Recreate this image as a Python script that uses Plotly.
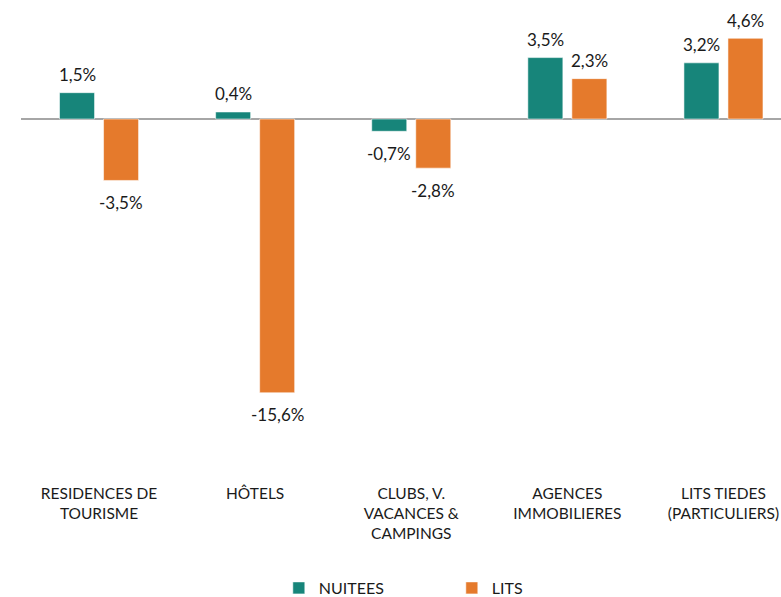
import plotly.graph_objects as go

categories = ["RESIDENCES DE<br>TOURISME", "HÔTELS", "CLUBS, V.<br>VACANCES &<br>CAMPINGS",
              "AGENCES<br>IMMOBILIERES", "LITS TIEDES<br>(PARTICULIERS)"]
nuitees = [1.5, 0.4, -0.7, 3.5, 3.2]
lits = [-3.5, -15.6, -2.8, 2.3, 4.6]
series_names = ["NUITEES", "LITS"]
colors = ["#17857A", "#E57A2C"]

FONT = "Lato, sans-serif"

fig = go.Figure()
for name, vals, col in zip(series_names, [nuitees, lits], colors):
    fig.add_trace(go.Bar(
        name=name, x=categories, y=vals, marker_color=col,
        marker_line=dict(color="rgba(255,255,255,0.55)", width=1),
    ))

def fmt(v):
    return f"{v:.1f}".replace(".", ",") + "%"

annotations = []
for vals, xs in [(nuitees, -22), (lits, 22)]:
    for c, v in zip(categories, vals):
        annotations.append(dict(
            x=c, y=v, xshift=xs, yshift=18 if v >= 0 else -22,
            text=fmt(v), showarrow=False, yanchor="middle",
            font=dict(family=FONT, size=17, color="#1a1a1a"),
        ))

px_per_unit = 17.55
zero_px = 119
top_px = 5
bottom_px = 482
H = 597
y_top = (zero_px - top_px) / px_per_unit
y_bot = (zero_px - bottom_px) / px_per_unit

left_px = 21.5
slot = 156
x_right = (781 - left_px) / slot - 0.5

fig.update_layout(
    width=781, height=H,
    margin=dict(l=21, r=0, t=top_px, b=H - bottom_px, autoexpand=False),
    paper_bgcolor="white", plot_bgcolor="white",
    barmode="group", bargap=0.436, bargroupgap=0.2045,
    annotations=annotations,
    font=dict(family=FONT, size=16, color="#1a1a1a"),
    xaxis=dict(range=[-0.5, x_right], showline=False, ticks="", showgrid=False,
               tickfont=dict(family=FONT, size=15.5, color="#1a1a1a")),
    yaxis=dict(range=[y_bot, y_top], showticklabels=False, showgrid=False, ticks="",
               zeroline=True, zerolinecolor="#A6A6A6", zerolinewidth=1.5, showline=False),
    legend=dict(orientation="h", xref="container", yref="container",
                x=0.357, xanchor="left", y=1 - 588 / H, yanchor="middle",
                entrywidth=128, font=dict(family=FONT, size=16, color="#1a1a1a")),
    showlegend=True,
)

fig.write_html("out.html", config={"displayModeBar": False},
               post_script="document.body.style.margin='0';")
